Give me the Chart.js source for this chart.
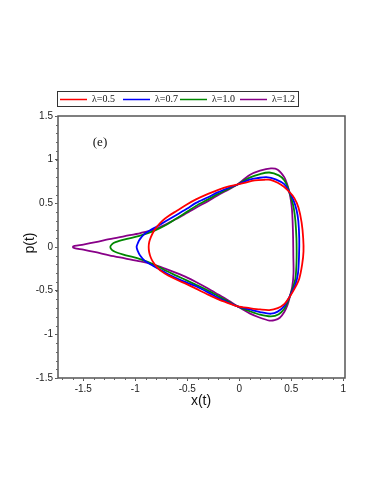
<!DOCTYPE html>
<html>
<head>
<meta charset="utf-8">
<script src="https://cdn.jsdelivr.net/npm/chart.js@4.4.1/dist/chart.umd.min.js"></script>
<style>
  body { margin: 0; background: #fff; }
  canvas { display: block; }
</style>
</head>
<body>
<canvas id="phaseChart" width="374" height="484"></canvas>
<script>
// legend labels and colours
const lambdaLabels = ["λ=0.5", "λ=0.7", "λ=1.0", "λ=1.2"];
const lineColors = ["#ff0000", "#0000ff", "#008800", "#880088"];

// axis ticks
const xTicks = [-1.5, -1, -0.5, 0, 0.5, 1];
const yTicks = [-1.5, -1, -0.5, 0, 0.5, 1, 1.5];

// phase curves: x(t) and p(t), one closed loop each
const redX = [-0.016, 0.05, 0.15, 0.24, 0.30, 0.37, 0.43, 0.481, 0.53, 0.57, 0.60, 0.615, 0.618, 0.605, 0.577, 0.54, 0.49, 0.433, 0.37, 0.29, 0.2, 0.1, -0.016,
  -0.1, -0.2, -0.3, -0.416, -0.5, -0.6, -0.68, -0.74, -0.79, -0.827, -0.851, -0.866, -0.871,
  -0.865, -0.849, -0.825, -0.79, -0.74, -0.68, -0.6, -0.5, -0.416, -0.3, -0.208, -0.1, -0.016];
const redP = [0.716, 0.735, 0.762, 0.77, 0.77, 0.735, 0.69, 0.631, 0.56, 0.45, 0.28, 0.1, -0.05, -0.2, -0.363, -0.46, -0.56, -0.655, -0.70, -0.722, -0.715, -0.70, -0.68,
  -0.645, -0.60, -0.545, -0.477, -0.428, -0.375, -0.328, -0.285, -0.232, -0.175, -0.12, -0.06, 0.0,
  0.06, 0.115, 0.175, 0.235, 0.30, 0.355, 0.415, 0.49, 0.545, 0.608, 0.652, 0.694, 0.716];

const blueX = [-0.016, 0.1, 0.18, 0.26, 0.35, 0.433, 0.481, 0.52, 0.55, 0.568, 0.577, 0.575, 0.565, 0.54, 0.49, 0.433, 0.37, 0.305, 0.2, 0.1, -0.016,
  -0.1, -0.2, -0.3, -0.416, -0.5, -0.6, -0.7, -0.8, -0.86, -0.913, -0.955, -0.975, -0.987,
  -0.975, -0.955, -0.913, -0.86, -0.8, -0.7, -0.6, -0.5, -0.416, -0.3, -0.208, -0.1, -0.016];
const blueP = [0.716, 0.772, 0.79, 0.80, 0.775, 0.719, 0.631, 0.54, 0.43, 0.3, 0.1, -0.1, -0.3, -0.43, -0.554, -0.676, -0.74, -0.764, -0.745, -0.715, -0.68,
  -0.638, -0.585, -0.52, -0.45, -0.41, -0.36, -0.30, -0.235, -0.195, -0.153, -0.095, -0.048, 0.0,
  0.045, 0.09, 0.148, 0.19, 0.23, 0.30, 0.37, 0.44, 0.505, 0.57, 0.625, 0.678, 0.716];

const greenX = [-0.016, 0.1, 0.2, 0.289, 0.38, 0.433, 0.465, 0.481, 0.505, 0.525, 0.54, 0.55, 0.552, 0.55, 0.54, 0.515, 0.49, 0.465, 0.433, 0.38, 0.305, 0.2, 0.1, -0.016,
  -0.1, -0.2, -0.3, -0.416, -0.5, -0.6, -0.7, -0.82, -0.96, -1.09, -1.19, -1.225, -1.24,
  -1.225, -1.19, -1.09, -0.96, -0.82, -0.7, -0.6, -0.5, -0.416, -0.3, -0.208, -0.1, -0.016];
const greenP = [0.716, 0.795, 0.835, 0.853, 0.82, 0.765, 0.69, 0.631, 0.54, 0.44, 0.3, 0.1, -0.05, -0.2, -0.363, -0.47, -0.554, -0.63, -0.707, -0.77, -0.795, -0.775, -0.735, -0.68,
  -0.628, -0.565, -0.50, -0.432, -0.385, -0.33, -0.275, -0.20, -0.135, -0.095, -0.057, -0.032, 0.0,
  0.03, 0.055, 0.09, 0.128, 0.185, 0.255, 0.33, 0.405, 0.47, 0.545, 0.605, 0.668, 0.716];

const purpleX = [-0.016, 0.1, 0.2, 0.305, 0.37, 0.433, 0.46, 0.481, 0.497, 0.507, 0.513, 0.518, 0.52, 0.522, 0.51, 0.49, 0.465, 0.433, 0.39, 0.34, 0.29, 0.2, 0.1, -0.016,
  -0.1, -0.2, -0.3, -0.416, -0.5, -0.6, -0.72, -0.83, -0.95, -1.1, -1.25, -1.38, -1.50, -1.585, -1.60,
  -1.585, -1.50, -1.38, -1.25, -1.1, -0.95, -0.83, -0.72, -0.6, -0.5, -0.416, -0.3, -0.208, -0.1, -0.016];
const purpleP = [0.716, 0.825, 0.875, 0.90, 0.885, 0.80, 0.72, 0.631, 0.53, 0.43, 0.30, 0.10, -0.10, -0.30, -0.45, -0.554, -0.66, -0.745, -0.81, -0.838, -0.842, -0.81, -0.76, -0.68,
  -0.615, -0.545, -0.475, -0.40, -0.35, -0.30, -0.245, -0.20, -0.165, -0.13, -0.095, -0.06, -0.03, -0.012, 0.0,
  0.012, 0.028, 0.055, 0.09, 0.125, 0.16, 0.195, 0.25, 0.325, 0.393, 0.45, 0.525, 0.59, 0.66, 0.716];

const seriesX = [redX, blueX, greenX, purpleX];
const seriesP = [redP, blueP, greenP, purpleP];

function toPoints(xs, ps) {
  return xs.map((x, i) => ({ x: x, y: ps[i] }));
}

const datasets = lambdaLabels.map((label, i) => ({
  label: label,
  data: toPoints(seriesX[i], seriesP[i]),
  showLine: true,
  borderColor: lineColors[i],
  borderWidth: 1.8,
  pointRadius: 0,
  tension: 0.3,
  fill: false
}));

// frame, minor ticks, axis titles, panel label and boxed legend
const decorPlugin = {
  id: "decor",
  afterDraw(chart) {
    const ctx = chart.ctx;
    const area = chart.chartArea;
    const xs = chart.scales.x;
    const ys = chart.scales.y;

    ctx.save();
    ctx.strokeStyle = "#555";
    ctx.lineWidth = 1.5;
    ctx.strokeRect(area.left, area.top, area.right - area.left, area.bottom - area.top);

    // minor ticks
    ctx.lineWidth = 1;
    ctx.strokeStyle = "#666";
    ctx.beginPath();
    for (let v = -1.7; v <= 1.0001; v += 0.1) {
      const px = Math.round(xs.getPixelForValue(v)) + 0.5;
      ctx.moveTo(px, area.bottom);
      ctx.lineTo(px, area.bottom + 2);
    }
    for (let v = -1.5; v <= 1.5001; v += 0.1) {
      const py = Math.round(ys.getPixelForValue(v)) + 0.5;
      ctx.moveTo(area.left, py);
      ctx.lineTo(area.left - 2, py);
    }
    ctx.stroke();

    // axis titles
    ctx.fillStyle = "#111";
    ctx.font = "14px 'Liberation Sans', Arial, sans-serif";
    ctx.textAlign = "center";
    ctx.textBaseline = "middle";
    ctx.fillText("x(t)", 201, 401);
    ctx.save();
    ctx.translate(30, 243);
    ctx.rotate(-Math.PI / 2);
    ctx.fillText("p(t)", 0, 0);
    ctx.restore();

    // panel label
    ctx.font = "13px 'Liberation Serif', 'Times New Roman', serif";
    ctx.fillText("(e)", 100, 143);

    // legend
    ctx.strokeStyle = "#333";
    ctx.lineWidth = 1;
    ctx.strokeRect(57.5, 91.5, 241, 15);
    const lineStarts = [60, 123, 180, 240];
    ctx.font = "10px 'Liberation Serif', 'Times New Roman', serif";
    ctx.textAlign = "left";
    lambdaLabels.forEach((label, i) => {
      ctx.strokeStyle = lineColors[i];
      ctx.lineWidth = 1.5;
      ctx.beginPath();
      ctx.moveTo(lineStarts[i], 99.5);
      ctx.lineTo(lineStarts[i] + 27, 99.5);
      ctx.stroke();
      ctx.fillStyle = "#111";
      ctx.fillText(label, lineStarts[i] + 32, 99.5);
    });
    ctx.restore();
  }
};

const config = {
  type: "scatter",
  data: { datasets: datasets },
  options: {
    responsive: false,
    animation: false,
    layout: { padding: { top: 116, right: 29, left: 0, bottom: 0 } },
    plugins: {
      legend: { display: false },
      tooltip: { enabled: false }
    },
    scales: {
      x: {
        type: "linear",
        min: -1.743,
        max: 1.017,
        afterBuildTicks(scale) { scale.ticks = xTicks.map(v => ({ value: v })); },
        afterFit(scale) { scale.height = 106; },
        grid: { drawOnChartArea: false, tickLength: 3, color: "#555" },
        border: { display: false },
        ticks: {
          padding: 2,
          color: "#222",
          font: { family: "'Liberation Sans', Arial, sans-serif", size: 10 },
          maxRotation: 0,
          callback: v => String(v)
        }
      },
      y: {
        type: "linear",
        min: -1.5,
        max: 1.5,
        afterBuildTicks(scale) { scale.ticks = yTicks.map(v => ({ value: v })); },
        afterFit(scale) { scale.width = 58; },
        grid: { drawOnChartArea: false, tickLength: 3, color: "#555" },
        border: { display: false },
        ticks: {
          padding: 2,
          color: "#222",
          font: { family: "'Liberation Sans', Arial, sans-serif", size: 10 },
          callback: v => String(v)
        }
      }
    }
  },
  plugins: [decorPlugin]
};

const phaseChart = new Chart(document.getElementById("phaseChart"), config);
</script>
</body>
</html>
